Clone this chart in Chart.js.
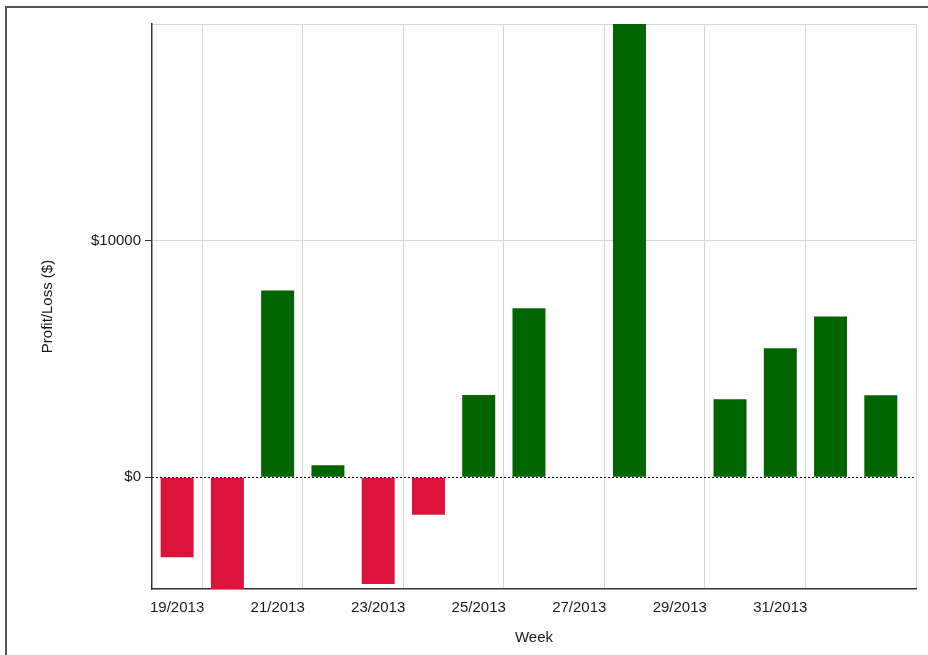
<!DOCTYPE html>
<html>
<head>
<meta charset="utf-8">
<script src="https://cdn.jsdelivr.net/npm/chart.js@4.4.1/dist/chart.umd.min.js"></script>
<style>
html, body { margin: 0; padding: 0; background: #fff; }
#wrap { position: relative; width: 928px; height: 655px; overflow: hidden; }
#frame { position: absolute; left: 5px; top: 6px; width: 1000px; height: 700px; border-left: 2px solid #555; border-top: 2px solid #555; }
canvas { position: absolute; left: 0; top: 0; }
</style>
</head>
<body>
<div id="wrap">
  <div id="frame"></div>
  <canvas id="pnlChart" width="928" height="655"></canvas>
</div>
<script>
// weekly profit/loss, weeks 19..33 of 2013
const weeks = [19, 20, 21, 22, 23, 24, 25, 26, 27, 28, 29, 30, 31, 32, 33];
const profit = [-3380, -4726, 7890, 506, -4515, -1590, 3480, 7140, 0, 19160, 0, 3300, 5450, 6790, 3460];
const weekTicks = [19, 21, 23, 25, 27, 29, 31];
const yTicks = [0, 10000];

const xMin = 18.5;
const xMax = 33.7;
// vertical grid lines sit on the right edge of each labelled week
const gridPos = weekTicks.map(w => w + 0.5).concat([xMax]);

Chart.defaults.font.family = '"Liberation Sans", Arial, sans-serif';
Chart.defaults.font.size = 15;
Chart.defaults.color = '#1a1a1a';

const zeroLine = {
    id: 'zeroLine',
    afterDatasetsDraw(chart) {
        const {ctx, chartArea, scales} = chart;
        const y = Math.round(scales.y.getPixelForValue(0)) + 0.5;
        ctx.save();
        ctx.strokeStyle = '#000';
        ctx.lineWidth = 1;
        ctx.setLineDash([2, 2]);
        ctx.beginPath();
        ctx.moveTo(chartArea.left, y);
        ctx.lineTo(chartArea.right, y);
        ctx.stroke();
        ctx.restore();
    }
};

const pnlCtx = document.getElementById('pnlChart').getContext('2d');
const pnlChart = new Chart(pnlCtx, {
    type: 'bar',
    data: {
        datasets: [{
            label: 'Profit/Loss ($)',
            data: weeks.map((w, i) => ({x: w, y: profit[i]})),
            backgroundColor: profit.map(v => v < 0 ? '#dc143c' : '#006400'),
            borderWidth: 0,
            barPercentage: 0.82,
            categoryPercentage: 0.8
        }]
    },
    options: {
        responsive: false,
        animation: false,
        layout: {
            padding: {left: 35, top: 24, right: 12, bottom: 4}
        },
        plugins: {
            legend: {display: false},
            tooltip: {enabled: false}
        },
        scales: {
            x: {
                type: 'linear',
                position: 'bottom',
                min: xMin,
                max: xMax,
                offset: false,
                afterBuildTicks: axis => { axis.ticks = weekTicks.map(v => ({value: v})); },
                afterFit: axis => { axis.height = 62; },
                grid: {display: false, drawTicks: false, offset: false},
                border: {color: '#333', width: 1.5},
                ticks: {
                    padding: 10,
                    maxRotation: 0,
                    autoSkip: false,
                    callback: v => v + '/2013'
                },
                title: {display: true, text: 'Week', padding: {top: 4, bottom: 4}}
            },
            xg: {
                type: 'linear',
                position: 'top',
                min: xMin,
                max: xMax,
                offset: false,
                afterBuildTicks: axis => { axis.ticks = gridPos.map(v => ({value: v})); },
                afterFit: axis => { axis.height = 0; },
                grid: {color: '#d6d6d6', drawTicks: false, offset: false},
                border: {color: '#d6d6d6', width: 1},
                ticks: {display: false}
            },
            y: {
                min: Math.min(...profit),
                max: Math.max(...profit),
                afterBuildTicks: axis => { axis.ticks = yTicks.map(v => ({value: v})); },
                afterFit: axis => { axis.width = 117; },
                grid: {
                    color: ctx => ctx.tick && ctx.tick.value === 0 ? 'rgba(0,0,0,0)' : '#d6d6d6',
                    tickColor: '#333',
                    tickLength: 7
                },
                border: {color: '#333', width: 1.5},
                ticks: {
                    padding: 4,
                    callback: v => '$' + v
                },
                title: {display: true, text: 'Profit/Loss ($)', padding: {top: 4, bottom: 4}}
            }
        }
    },
    plugins: [zeroLine]
});
</script>
</body>
</html>
